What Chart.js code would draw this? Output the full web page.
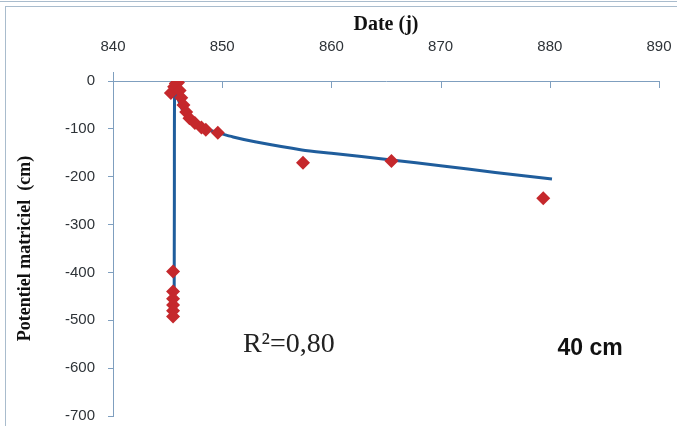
<!DOCTYPE html>
<html>
<head>
<meta charset="utf-8">
<script src="https://cdn.jsdelivr.net/npm/chart.js@4"></script>
<style>
  html, body { margin: 0; padding: 0; background: #fff; }
  body { width: 677px; height: 426px; position: relative; overflow: hidden; }
  #wrap { position: absolute; left: 0; top: 0; width: 677px; height: 426px; }
  .frameTop { position: absolute; left: 0; top: 1px; width: 677px; height: 0; border-top: 1px solid #a9bccd; }
  .frame { position: absolute; left: 5px; top: 6px; width: 700px; height: 440px; border-left: 1px solid #a9bccd; border-top: 1px solid #a9bccd; }
</style>
</head>
<body>
<div class="frameTop"></div>
<div class="frame"></div>
<div id="wrap"><canvas id="c" width="677" height="426"></canvas></div>
<script>
// Measured points: date (days) and matric potential (cm)
const dates = [845.3, 845.6, 845.75, 845.95, 846.1, 846.25, 846.45, 846.7, 847.0, 847.5, 848.1, 848.5, 849.6, 857.4, 865.5, 879.4,
               845.5, 845.5, 845.5, 845.5, 845.5, 845.5];
const potentials = [-25, -12, -5, -3, -20, -35, -50, -65, -78, -88, -97, -102, -108, -171, -167, -245,
                    -398, -440, -455, -468, -480, -492];

// Fitted trend curve
const fitDates  = [845.6, 845.62, 845.65, 845.8, 846.0, 846.4, 847.0, 847.5, 848.3, 849.3, 851.0, 853.0, 857.3, 860.0, 865.5, 870.0, 875.0, 880.2];
const fitValues = [-482, -250, -10, -25, -40, -62, -80, -91, -100, -106, -117, -127, -144, -151, -165, -177, -191, -205];

// Axis ticks
const xTicks = [840, 850, 860, 870, 880, 890];
const yTicks = [0, -100, -200, -300, -400, -500, -600, -700];

// Annotation texts and their anchors (data units)
const r2Text = "R\u00B2=0,80";
const r2Anchor = [851.9, -566];
const depthText = "40 cm";
const depthAnchor = [880.7, -572];

const axisColor = '#7f9fbf';
const tickColor = '#2e3338';

const innerTicks = {
  id: 'innerTicks',
  afterDraw(chart) {
    const ctx = chart.ctx;
    const xs = chart.scales.x, ys = chart.scales.y;
    const top = chart.chartArea.top, left = chart.chartArea.left;
    ctx.save();
    ctx.strokeStyle = axisColor;
    ctx.lineWidth = 1;
    ctx.beginPath();
    xTicks.forEach(v => {
      const px = Math.round(xs.getPixelForValue(v)) + 0.5;
      ctx.moveTo(px, top);
      ctx.lineTo(px, top + 7);
    });
    const lx = Math.round(left) + 0.5;
    ctx.moveTo(lx, top - 9);
    ctx.lineTo(lx, top);
    ctx.stroke();

    // annotations
    ctx.textBaseline = 'alphabetic';
    ctx.textAlign = 'left';
    ctx.fillStyle = '#222';
    ctx.font = '28px "Liberation Serif", "Times New Roman", serif';
    ctx.fillText(r2Text, xs.getPixelForValue(r2Anchor[0]), ys.getPixelForValue(r2Anchor[1]));
    ctx.fillStyle = '#111';
    ctx.font = 'bold 23px "Liberation Sans", Arial, sans-serif';
    ctx.fillText(depthText, xs.getPixelForValue(depthAnchor[0]), ys.getPixelForValue(depthAnchor[1]));
    ctx.restore();
  }
};

function zeroPad(s) { s.paddingLeft = 0; s.paddingRight = 0; s.paddingTop = 0; s.paddingBottom = 0; }

new Chart(document.getElementById('c'), {
  type: 'scatter',
  data: {
    datasets: [
      {
        label: 'Mesures',
        data: dates.map((d, i) => ({ x: d, y: potentials[i] })),
        pointStyle: 'rectRot',
        pointRadius: 7,
        pointBackgroundColor: '#c5282c',
        pointBorderColor: '#c5282c',
        pointBorderWidth: 0,
        showLine: false,
        order: 1
      },
      {
        label: 'Ajustement',
        data: fitDates.map((d, i) => ({ x: d, y: fitValues[i] })),
        showLine: true,
        borderColor: '#1f5d9c',
        borderWidth: 3,
        pointRadius: 0,
        tension: 0.25,
        fill: false,
        order: 2
      }
    ]
  },
  options: {
    responsive: false,
    animation: false,
    devicePixelRatio: 1,
    layout: { padding: { left: 0, top: 0, right: 18, bottom: 10 } },
    plugins: { legend: { display: false }, tooltip: { enabled: false } },
    scales: {
      x: {
        type: 'linear',
        position: 'top',
        min: 840, max: 890,
        afterBuildTicks: s => { s.ticks = xTicks.map(v => ({ value: v })); },
        afterFit: s => { s.height = 81; zeroPad(s); },
        ticks: {
          color: tickColor,
          font: { family: '"Liberation Sans", Arial, sans-serif', size: 15 },
          padding: 25,
          maxRotation: 0
        },
        grid: { display: true, drawOnChartArea: false, drawTicks: false },
        border: { display: true, color: axisColor, width: 1 },
        title: {
          display: true,
          text: 'Date (j)',
          color: '#111',
          font: { family: '"Liberation Serif", "Times New Roman", serif', size: 20, weight: 'bold' },
          padding: { top: 13, bottom: 0 }
        }
      },
      y: {
        type: 'linear',
        min: -700, max: 0,
        afterBuildTicks: s => { s.ticks = yTicks.map(v => ({ value: v })); },
        afterFit: s => { s.width = 113; zeroPad(s); },
        ticks: {
          color: tickColor,
          font: { family: '"Liberation Sans", Arial, sans-serif', size: 15 },
          padding: 13
        },
        grid: { display: true, drawOnChartArea: false, drawTicks: true, tickLength: 5, color: axisColor },
        border: { display: true, color: axisColor, width: 1 },
        title: {
          display: true,
          text: 'Potentiel matriciel  (cm)',
          color: '#111',
          font: { family: '"Liberation Serif", "Times New Roman", serif', size: 18, weight: 'bold' },
          padding: { top: 15, bottom: 0 }
        }
      }
    }
  },
  plugins: [innerTicks]
});
</script>
</body>
</html>
